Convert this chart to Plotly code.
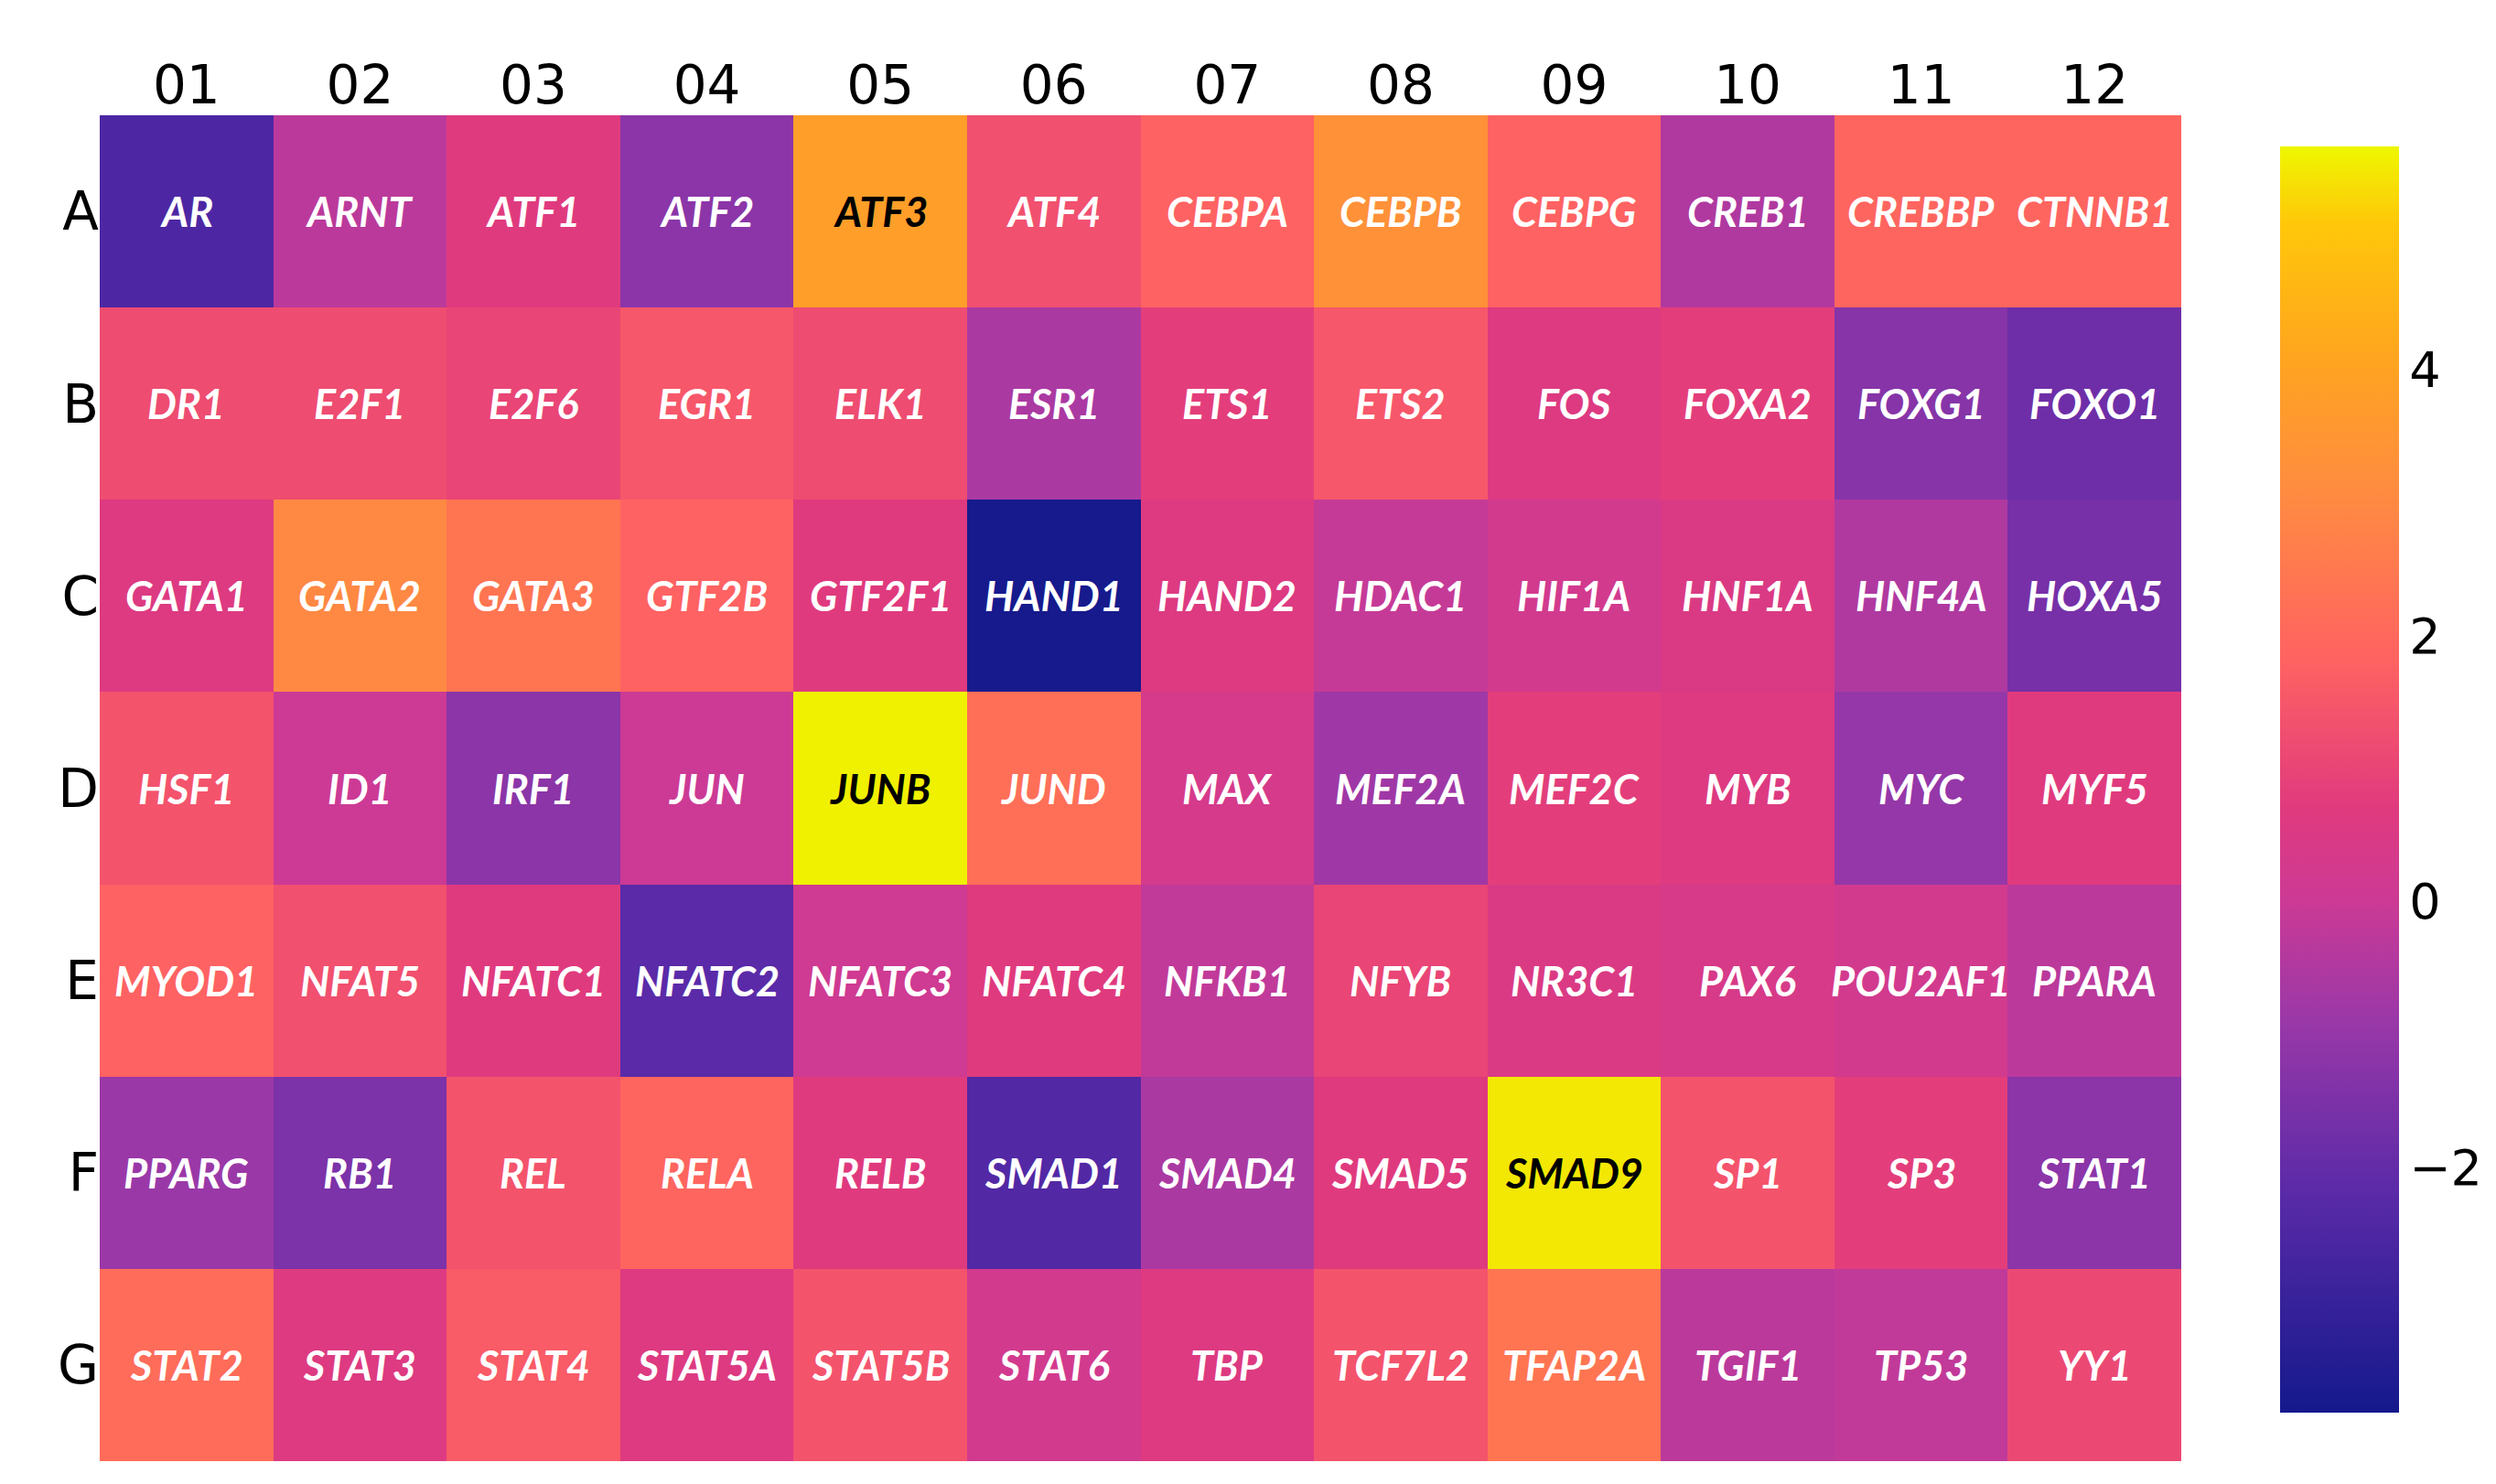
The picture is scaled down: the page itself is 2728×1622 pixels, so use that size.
import plotly.graph_objects as go

cols = ["01","02","03","04","05","06","07","08","09","10","11","12"]
rows = ["A","B","C","D","E","F","G"]
genes = [
 ["AR","ARNT","ATF1","ATF2","ATF3","ATF4","CEBPA","CEBPB","CEBPG","CREB1","CREBBP","CTNNB1"],
 ["DR1","E2F1","E2F6","EGR1","ELK1","ESR1","ETS1","ETS2","FOS","FOXA2","FOXG1","FOXO1"],
 ["GATA1","GATA2","GATA3","GTF2B","GTF2F1","HAND1","HAND2","HDAC1","HIF1A","HNF1A","HNF4A","HOXA5"],
 ["HSF1","ID1","IRF1","JUN","JUNB","JUND","MAX","MEF2A","MEF2C","MYB","MYC","MYF5"],
 ["MYOD1","NFAT5","NFATC1","NFATC2","NFATC3","NFATC4","NFKB1","NFYB","NR3C1","PAX6","POU2AF1","PPARA"],
 ["PPARG","RB1","REL","RELA","RELB","SMAD1","SMAD4","SMAD5","SMAD9","SP1","SP3","STAT1"],
 ["STAT2","STAT3","STAT4","STAT5A","STAT5B","STAT6","TBP","TCF7L2","TFAP2A","TGIF1","TP53","YY1"],
]
values = [
 [-2.5,-0.3,0.7,-1.2,3.8,1.3,1.8,3.3,1.8,-0.5,1.9,1.9],
 [1.2,1.2,1.0,1.5,1.2,-0.6,0.8,1.5,0.6,0.8,-1.3,-1.8],
 [0.6,3.0,2.4,1.8,0.7,-3.8,0.6,-0.1,0.2,0.5,-0.5,-1.6],
 [1.4,0.0,-1.2,0.0,5.6,2.2,0.3,-0.8,0.8,0.6,-1.0,0.7],
 [1.8,1.3,0.7,-2.2,0.1,0.7,-0.2,1.0,0.5,0.4,0.2,-0.3],
 [-0.9,-1.5,1.4,1.9,0.7,-2.4,-0.6,0.7,5.5,1.4,0.8,-1.2],
 [2.1,0.6,1.6,0.6,1.4,0.2,0.6,1.4,2.4,-0.3,-0.2,1.1],
]

scale = [[0,"#14198c"],[0.173,"#5a2aa8"],[0.31,"#9a38a8"],[0.404,"#cc3a95"],[0.477,"#e03a7e"],
         [0.593,"#ff6262"],[0.729,"#ff8c40"],[0.834,"#ffa51f"],[0.939,"#ffc70a"],[1,"#eef700"]]

xi = list(range(len(cols)))
yi = list(range(len(rows)))

fig = go.Figure(go.Heatmap(
    z=values, x=xi, y=yi, colorscale=scale, zmin=-3.85, zmax=5.68,
    colorbar=dict(tickvals=[-2,0,2,4], ticks="", thickness=130, lenmode="pixels", len=1384,
                  xref="container", x=0.907, xanchor="left", yref="container", y=0.426, yanchor="middle",
                  ypad=0, outlinewidth=0, tickfont=dict(size=54, color="black", family="DejaVu Sans")),
    hoverinfo="skip"))

for i in yi:
    for j in xi:
        v = values[i][j]
        fig.add_annotation(x=j, y=i, text=f"<b><i>{genes[i][j]}</i></b>", showarrow=False,
                           font=dict(size=45, family="Lato", color="black" if v > 3.5 else "white"))

fig.update_layout(
    width=2728, height=1622, plot_bgcolor="white", paper_bgcolor="white",
    margin=dict(l=101, r=352, t=118, b=33),
    xaxis=dict(side="top", tickvals=xi, ticktext=cols, showgrid=False, zeroline=False, ticks="",
               tickfont=dict(size=58, family="DejaVu Sans", color="black")),
    yaxis=dict(tickvals=yi, ticktext=rows, autorange="reversed", showgrid=False, zeroline=False, ticks="",
               ticksuffix="   ", tickfont=dict(size=58, family="DejaVu Sans", color="black")),
)
fig.write_html("out.html")
